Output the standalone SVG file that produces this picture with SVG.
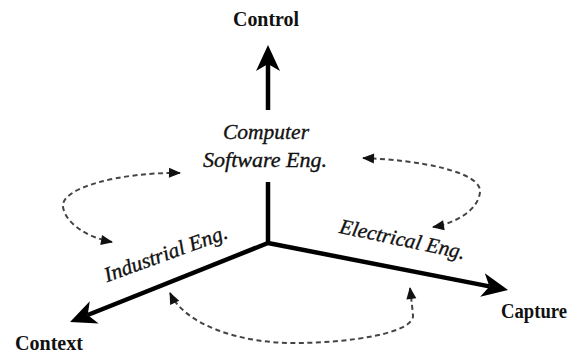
<svg xmlns="http://www.w3.org/2000/svg" width="571" height="356" viewBox="0 0 571 356">
  <style>
    .axis { stroke: #000; stroke-width: 4.5; fill: none; stroke-linecap: butt; }
    .loop { stroke: #444; stroke-width: 2; fill: none; stroke-dasharray: 5 3.5; }
    text { font-family: "Liberation Serif", "Times New Roman", Times, serif; fill: #111; }
    .bold { font-weight: bold; font-size: 20px; }
    .ital { font-style: italic; font-size: 21px; stroke: #111; stroke-width: 0.35px; }
  </style>
  <defs>
    <marker id="bigHead" markerUnits="userSpaceOnUse" markerWidth="30" markerHeight="30" viewBox="-2 -14 30 28" refX="7" refY="0" orient="auto" overflow="visible">
      <path d="M0,-12 L26,0 L0,12 L7,0 Z" fill="#000"/>
    </marker>
    <marker id="smallHead" markerUnits="userSpaceOnUse" markerWidth="14" markerHeight="12" viewBox="-12 -6 14 12" refX="0" refY="0" orient="auto-start-reverse" overflow="visible">
      <path d="M-11,-5 L1,0 L-11,5 Z" fill="#111"/>
    </marker>
  </defs>

  <!-- axes and feedback loops -->
  <g id="connectors">
    <line class="axis" x1="268" y1="110" x2="268" y2="64" marker-end="url(#bigHead)"/>
    <line class="axis" x1="268" y1="182" x2="268" y2="243"/>
    <polyline class="axis" points="268,243 87.7,315" marker-end="url(#bigHead)"/>
    <polyline class="axis" points="268,243 489.4,286.4" marker-end="url(#bigHead)"/>

    <path class="loop" d="M 180,173 C 120,172 60,188 63,207 C 66,225 90,238 112,242" marker-start="url(#smallHead)" marker-end="url(#smallHead)"/>
    <path class="loop" d="M 363,158 C 420,160 482,172 480,192 C 478,212 452,224 433,227" marker-start="url(#smallHead)" marker-end="url(#smallHead)"/>
    <path class="loop" d="M 170,293 C 185,325 240,343 293,343 C 350,343 415,333 413,315 C 412,305 411,296 410,288" marker-start="url(#smallHead)" marker-end="url(#smallHead)"/>
  </g>

  <g id="control">
    <text class="bold" x="266" y="26" text-anchor="middle" textLength="66" lengthAdjust="spacingAndGlyphs">Control</text>
  </g>
  <g id="software">
    <text class="ital" x="266" y="139" text-anchor="middle" textLength="86" lengthAdjust="spacingAndGlyphs">Computer</text>
    <text class="ital" x="265" y="167" text-anchor="middle" textLength="124" lengthAdjust="spacingAndGlyphs">Software Eng.</text>
  </g>
  <g id="industrial">
    <text class="ital" x="168" y="260" text-anchor="middle" textLength="130" lengthAdjust="spacingAndGlyphs" transform="rotate(-20 168 260)">Industrial Eng.</text>
  </g>
  <g id="electrical">
    <text class="ital" x="401" y="246" text-anchor="middle" textLength="128" lengthAdjust="spacingAndGlyphs" transform="rotate(12 401 246)">Electrical Eng.</text>
  </g>
  <g id="context">
    <text class="bold" x="49" y="350" text-anchor="middle" textLength="68" lengthAdjust="spacingAndGlyphs">Context</text>
  </g>
  <g id="capture">
    <text class="bold" x="534" y="318" text-anchor="middle" textLength="66" lengthAdjust="spacingAndGlyphs">Capture</text>
  </g>
</svg>
